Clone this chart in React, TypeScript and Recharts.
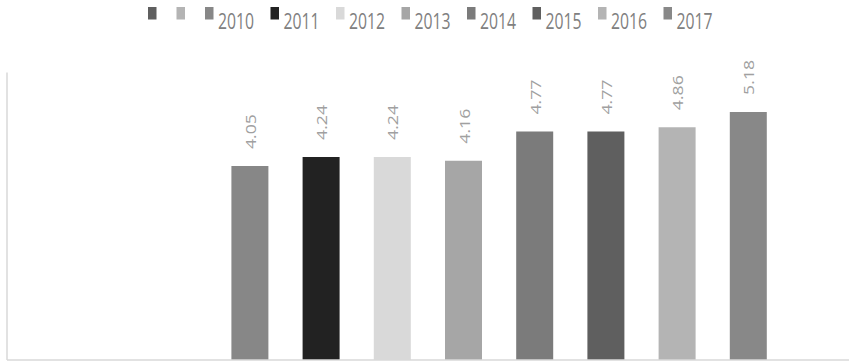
import React from "react";
import { BarChart, Bar, XAxis, YAxis, Legend } from "recharts";

const categories = [""];
const seriesNames = ["", "", "2010", "2011", "2012", "2013", "2014", "2015", "2016", "2017"];
const seriesValues: (number | null)[] = [null, null, 4.05, 4.24, 4.24, 4.16, 4.77, 4.77, 4.86, 5.18];
const seriesColors = [
  "#5f5f5f",
  "#b4b4b4",
  "#878787",
  "#222222",
  "#d9d9d9",
  "#a6a6a6",
  "#7b7b7b",
  "#5f5f5f",
  "#b4b4b4",
  "#888888",
];

const data = categories.map((c) => {
  const row: Record<string, string | number | null> = { cat: c };
  seriesNames.forEach((_, i) => {
    row["s" + i] = seriesValues[i];
  });
  return row;
});

const renderLegend = () => {
  let x = 148;
  const items = seriesNames.map((name, i) => {
    const g = (
      <g key={i}>
        <rect x={x} y={7} width={8.5} height={12.5} fill={seriesColors[i]} />
        {name !== "" && (
          <text
            x={x + 13}
            y={28.5}
            fontSize={21}
            fill="#808080"
            fontFamily="Open Sans, Liberation Sans, sans-serif"
            textLength={36}
            lengthAdjust="spacingAndGlyphs"
          >
            {name}
          </text>
        )}
      </g>
    );
    x += name === "" ? 28.5 : 65.5;
    return g;
  });
  return (
    <svg width={849} height={40} style={{ display: "block" }}>
      {items}
    </svg>
  );
};

const renderLabel = (props: any) => {
  const { x, y, width, value } = props;
  if (value === null || value === undefined) return null;
  const bx = Number(x) + Number(width) / 2 + 6;
  const by = Number(y) - 17;
  return (
    <text
      transform={`translate(${bx},${by}) scale(0.8,1) rotate(-90)`}
      x={0}
      y={0}
      textAnchor="start"
      fontSize={18}
      fill="#a0a0a0"
      fontFamily="Open Sans, Liberation Sans, sans-serif"
      textLength={35}
      lengthAdjust="spacingAndGlyphs"
    >
      {Number(value).toFixed(2)}
    </text>
  );
};

export default function App() {
  return (
    <div style={{ position: "absolute", left: 0, top: 0, width: 849, height: 362, background: "#fff" }}>
      <BarChart
        width={849}
        height={362}
        data={data}
        margin={{ top: 32.6, left: 6, right: 0, bottom: 1 }}
        barSize={37}
        barGap={34.2}
      >
        <Legend
          verticalAlign="top"
          align="left"
          wrapperStyle={{ top: 0, left: 0, width: 849, height: 40 }}
          content={renderLegend}
        />
        <XAxis
          dataKey="cat"
          height={1}
          tick={false}
          tickLine={false}
          axisLine={{ stroke: "#d9d9d9", strokeWidth: 1.5 }}
        />
        <YAxis
          width={1}
          domain={[0, 6]}
          tick={false}
          tickLine={false}
          axisLine={{ stroke: "#d9d9d9", strokeWidth: 1.5 }}
        />
        {seriesNames.map((name, i) => (
          <Bar
            key={i}
            dataKey={"s" + i}
            name={name}
            fill={seriesColors[i]}
            isAnimationActive={false}
            label={renderLabel}
          />
        ))}
      </BarChart>
    </div>
  );
}
